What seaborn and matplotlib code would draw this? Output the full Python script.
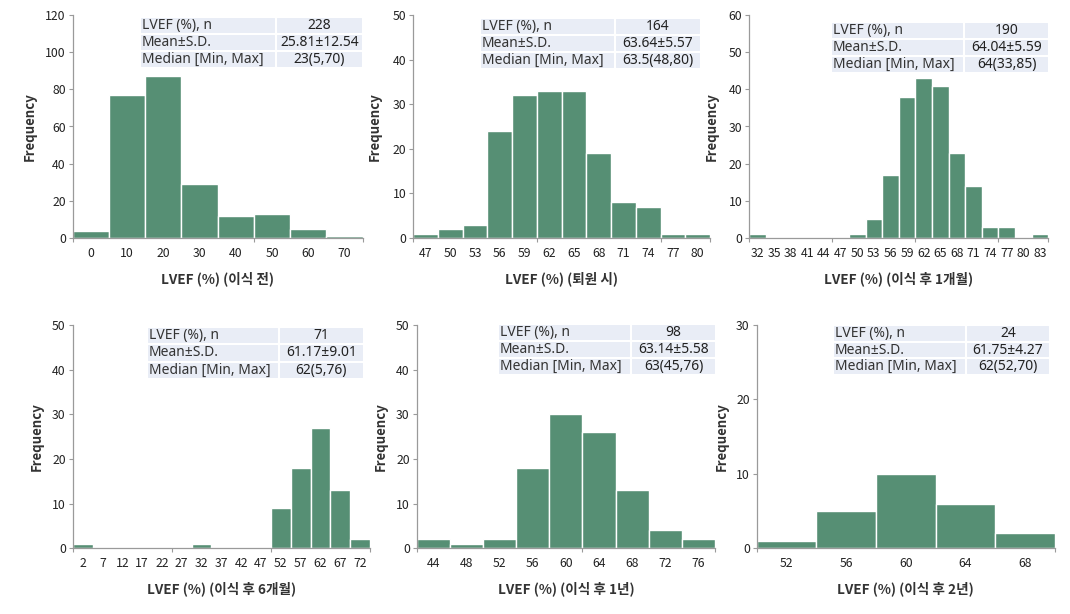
import numpy as np
import pandas as pd
import matplotlib
matplotlib.use("Agg")
import matplotlib.pyplot as plt
from matplotlib.patches import Rectangle
import seaborn as sns

sns.set_theme(style="white")
plt.rcParams["font.family"] = ["Noto Sans CJK KR", "DejaVu Sans"]
TABLE_FONT = ["Noto Sans", "Noto Sans CJK KR", "DejaVu Sans"]

# ---------------- data ----------------
xlabels = ["LVEF (%) (이식 전)", "LVEF (%) (퇴원 시)", "LVEF (%) (이식 후 1개월)",
           "LVEF (%) (이식 후 6개월)", "LVEF (%) (이식 후 1년)", "LVEF (%) (이식 후 2년)"]

centers_pre = [0, 10, 20, 30, 40, 50, 60, 70]
counts_pre = [4, 77, 87, 29, 12, 13, 5, 1]

centers_dis = [47, 50, 53, 56, 59, 62, 65, 68, 71, 74, 77, 80]
counts_dis = [1, 2, 3, 24, 32, 33, 33, 19, 8, 7, 1, 1]

centers_1m = [32, 35, 38, 41, 44, 47, 50, 53, 56, 59, 62, 65, 68, 71, 74, 77, 80, 83]
counts_1m = [1, 0, 0, 0, 0, 0, 1, 5, 17, 38, 43, 41, 23, 14, 3, 3, 0, 1]

centers_6m = [2, 7, 12, 17, 22, 27, 32, 37, 42, 47, 52, 57, 62, 67, 72]
counts_6m = [1, 0, 0, 0, 0, 0, 1, 0, 0, 0, 9, 18, 27, 13, 2]

centers_1y = [44, 48, 52, 56, 60, 64, 68, 72, 76]
counts_1y = [2, 1, 2, 18, 30, 26, 13, 4, 2]

centers_2y = [52, 56, 60, 64, 68]
counts_2y = [1, 5, 10, 6, 2]

stat_names = ["LVEF (%), n", "Mean±S.D.", "Median [Min, Max]"]
n_vals = ["228", "164", "190", "71", "98", "24"]
mean_sd = ["25.81±12.54", "63.64±5.57", "64.04±5.59", "61.17±9.01", "63.14±5.58", "61.75±4.27"]
median_rng = ["23(5,70)", "63.5(48,80)", "64(33,85)", "62(5,76)", "63(45,76)", "62(52,70)"]

ymax = [120, 50, 60, 50, 50, 30]

# ---------------- layout ----------------
W, H = 1070, 614
axes_px = [  # left, top, right, bottom in pixels
    (72.7, 15, 362.7, 238), (413.3, 15, 710, 238), (749.3, 15, 1048.3, 238),
    (72.7, 325, 370, 548.3), (416.7, 325, 715, 548.3), (756.7, 325, 1055, 548.3),
]
table_px = [  # left, top, right, bottom, split
    (140, 17, 362.7, 68, 276), (480, 18, 701, 69, 615), (831, 22, 1049, 73, 964),
    (147, 327, 364, 379, 279), (498, 324, 716, 375, 631), (833, 325, 1050, 375, 966),
]
ylabel_x = [30, 375, 712, 37, 381, 722]

bar_color = "#568F74"
cell_color = "#E9EDF6"
spine_color = "#9A9A9A"
text_color = "#222222"

centers_all = [centers_pre, centers_dis, centers_1m, centers_6m, centers_1y, centers_2y]
counts_all = [counts_pre, counts_dis, counts_1m, counts_6m, counts_1y, counts_2y]

fig = plt.figure(figsize=(W / 100, H / 100), dpi=100)

for i in range(6):
    l, t, r, b = axes_px[i]
    ax = fig.add_axes([l / W, (H - b) / H, (r - l) / W, (b - t) / H])
    c = np.array(centers_all[i], dtype=float)
    w = c[1] - c[0]
    edges = np.concatenate([c - w / 2, [c[-1] + w / 2]])
    df = pd.DataFrame({"LVEF": c, "n": counts_all[i]})
    sns.histplot(data=df, x="LVEF", weights="n", bins=edges.tolist(), ax=ax,
                 color=bar_color, alpha=1.0, edgecolor="white", linewidth=1.0)
    ax.set_xlim(edges[0], edges[-1])
    ax.set_ylim(0, ymax[i])
    ax.set_yticks(np.arange(0, ymax[i] + 1, 10 if ymax[i] <= 60 else 20))
    ax.set_xticks(c)
    ax.set_xticklabels([str(int(v)) for v in c])
    # minor tick marks (unlabelled) along x axis
    step = {0: 50, 1: 15, 2: 15, 3: 25, 4: 20, 5: 20}[i]
    minor = list(np.arange(edges[0], edges[-1] + 1e-6, step))
    if abs(minor[-1] - edges[-1]) > 1e-6:
        minor.append(edges[-1])
    ax.set_xticks(minor, minor=True)
    ax.tick_params(axis="x", which="major", length=0, pad=6.5, labelsize=8.8, colors=text_color)
    ax.tick_params(axis="x", which="minor", length=3, width=0.8, color=spine_color, bottom=True)
    ax.tick_params(axis="y", which="major", length=3, width=0.8, color=spine_color, left=True,
                   pad=2, labelsize=8.8, labelcolor=text_color)
    for s in ["top", "right"]:
        ax.spines[s].set_visible(False)
    for s in ["left", "bottom"]:
        ax.spines[s].set_color(spine_color)
        ax.spines[s].set_linewidth(0.9)
    ax.set_xlabel(xlabels[i], fontsize=9.8, fontweight="bold", color="#333333", labelpad=8)
    ax.set_ylabel("Frequency", fontsize=9.5, fontweight="bold", color="#333333")
    ax.yaxis.set_label_coords((ylabel_x[i] + 7 - l) / (r - l), 0.5)

    # stats table
    tl, tt, tr, tb, ts = table_px[i]
    axw, axh = r - l, b - t
    rh = (tb - tt) / 3
    vals = [n_vals[i], mean_sd[i], median_rng[i]]
    for k in range(3):
        y0 = tt + k * rh
        for (x0, x1) in [(tl, ts), (ts, tr)]:
            ax.add_patch(Rectangle(((x0 - l) / axw, (b - (y0 + rh)) / axh),
                                   (x1 - x0) / axw, rh / axh, transform=ax.transAxes,
                                   facecolor=cell_color, edgecolor="white", linewidth=1.5,
                                   clip_on=False, zorder=5))
        yc = (b - (y0 + rh / 2)) / axh
        ax.text((tl + 2 - l) / axw, yc, stat_names[k], transform=ax.transAxes,
                ha="left", va="center", fontsize=10, color="#333333", zorder=6,
                family=TABLE_FONT)
        ax.text(((ts + tr) / 2 - l) / axw, yc, vals[k], transform=ax.transAxes,
                ha="center", va="center", fontsize=10, color="#222222", zorder=6,
                family=TABLE_FONT)

fig.savefig("out.png", dpi=100)
